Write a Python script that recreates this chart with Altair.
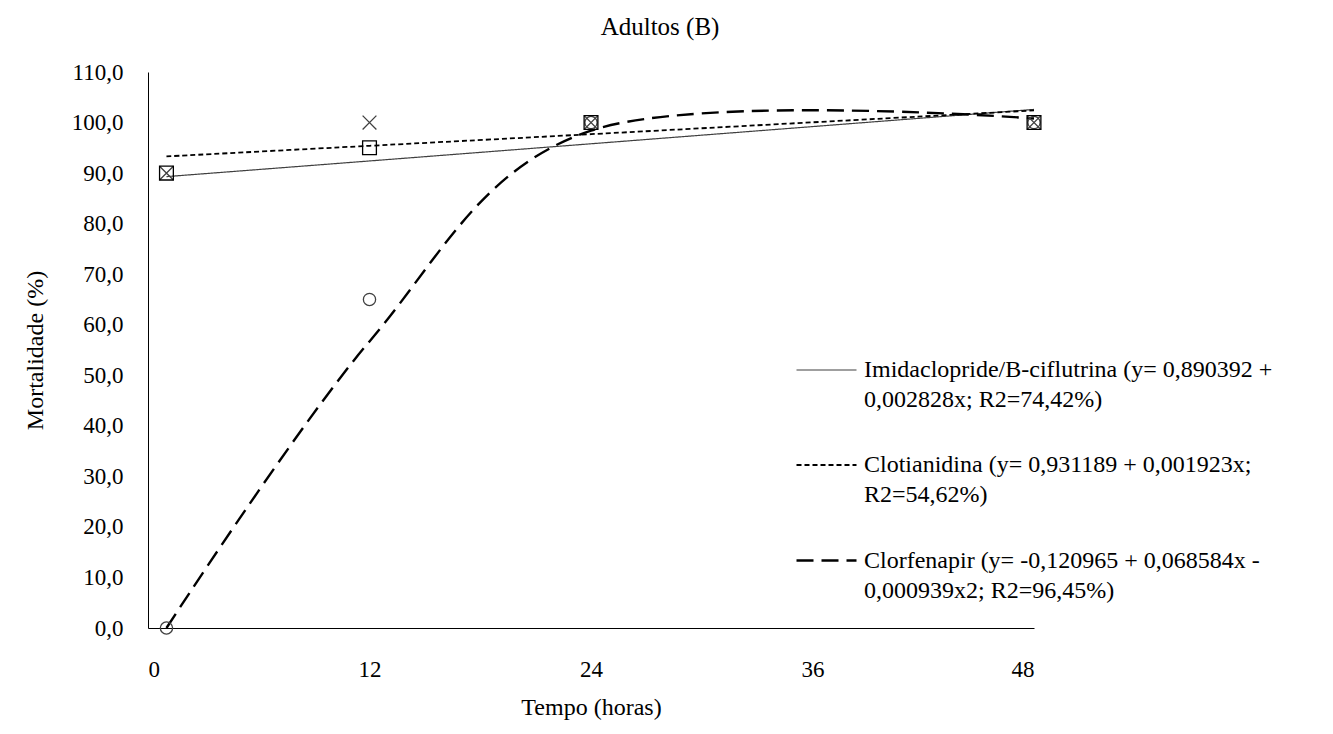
import altair as alt
import pandas as pd

# ---- data ----
horas = [1, 12, 24, 48]
series = [
    "Imidaclopride/B-ciflutrina (y= 0,890392 +|0,002828x; R2=74,42%)",
    "Clotianidina (y= 0,931189 + 0,001923x;|R2=54,62%)",
    "Clorfenapir (y= -0,120965 + 0,068584x -|0,000939x2; R2=96,45%)",
]
obs_imida = [90, 95, 100, 100]
obs_clotia = [90, 100, 100, 100]
obs_clorf = [0, 65, 100, 100]
fit_imida = [89.3, 92.4, 95.8, 102.6]
fit_clotia = [93.3, 95.4, 97.7, 102.4]
fit_clorf = [0.0, 56.7, 98.4, 100.8]
x_ticks = [0, 12, 24, 36, 48]
y_ticks = [0, 10, 20, 30, 40, 50, 60, 70, 80, 90, 100, 110]

FONT = "Liberation Serif"

fit_rows = []
for s, vals in zip(series, [fit_imida, fit_clotia, fit_clorf]):
    for h, v in zip(horas, vals):
        fit_rows.append({"h": h, "v": v, "s": s})
fit_df = pd.DataFrame(fit_rows)

obs_rows = []
for k, vals in zip(["imida", "clotia", "clorf"], [obs_imida, obs_clotia, obs_clorf]):
    for h, v in zip(horas, vals):
        obs_rows.append({"h": h, "v": v, "k": k})
obs_df = pd.DataFrame(obs_rows)

xenc = alt.X(
    "h:Q",
    scale=alt.Scale(domain=[0, 48], nice=False, zero=False),
    axis=alt.Axis(values=x_ticks, title="Tempo (horas)", labelPadding=30, titlePadding=14),
)
yenc = alt.Y(
    "v:Q",
    scale=alt.Scale(domain=[0, 110], nice=False),
    axis=alt.Axis(
        values=y_ticks,
        title="Mortalidade (%)",
        labelExpr="replace(format(datum.value, '.1f'), '.', ',')",
        labelPadding=25,
        titlePadding=24,
    ),
)

lines = alt.Chart(fit_df).mark_line(interpolate="cardinal").encode(
    x=xenc,
    y=yenc,
    stroke=alt.Stroke("s:N", scale=alt.Scale(domain=series, range=["#404040", "#000000", "#000000"]), title=None),
    strokeDash=alt.StrokeDash(
        "s:N",
        scale=alt.Scale(domain=series, range=[[1, 0], [5, 3], [17, 8]]),
        title=None,
        legend=alt.Legend(
            orient="none",
            legendX=647,
            legendY=267,
            title=None,
            labelExpr="split(datum.label, '|')",
            labelFont=FONT,
            labelFontSize=24,
            labelColor="black",
            labelLimit=800,
            labelBaseline="middle",
            labelOffset=6,
            symbolType="stroke",
            symbolSize=3600,
            rowPadding=22,
        ),
    ),
    strokeWidth=alt.StrokeWidth("s:N", scale=alt.Scale(domain=series, range=[1.2, 2.4, 2.6]), title=None),
)

def pts(key, shape, color, size):
    return alt.Chart(obs_df).transform_filter(alt.datum.k == key).mark_point(
        shape=shape, filled=False, stroke=color, strokeWidth=1.3, size=size, opacity=1
    ).encode(x="h:Q", y="v:Q")

xshape = "M-1,-1L1,1M1,-1L-1,1"
p_clorf = pts("clorf", "circle", "#404040", 150)
p_clotia = pts("clotia", xshape, "#404040", 190)
p_imida = pts("imida", "square", "#000000", 190)

chart = alt.layer(lines, p_clorf, p_clotia, p_imida).properties(
    width=886,
    height=556,
    padding={"left": 140, "top": 64, "right": 290, "bottom": 100},
    autosize=alt.AutoSizeParams(type="none"),
    title=alt.TitleParams(
        "Adultos (B)", font=FONT, fontSize=25, fontWeight="normal", color="black",
        anchor="middle", dx=69, offset=21,
    ),
).configure_view(stroke=None).configure_axis(
    grid=False,
    ticks=False,
    domainColor="black",
    domainWidth=1,
    labelFont=FONT,
    labelFontSize=23,
    labelColor="black",
    titleFont=FONT,
    titleFontSize=24,
    titleFontWeight="normal",
    titleColor="black",
)
chart.config.style = {"guide-label": {"lineHeight": 30}}

chart.save("out.html", embed_options={"renderer": "svg", "actions": False})
